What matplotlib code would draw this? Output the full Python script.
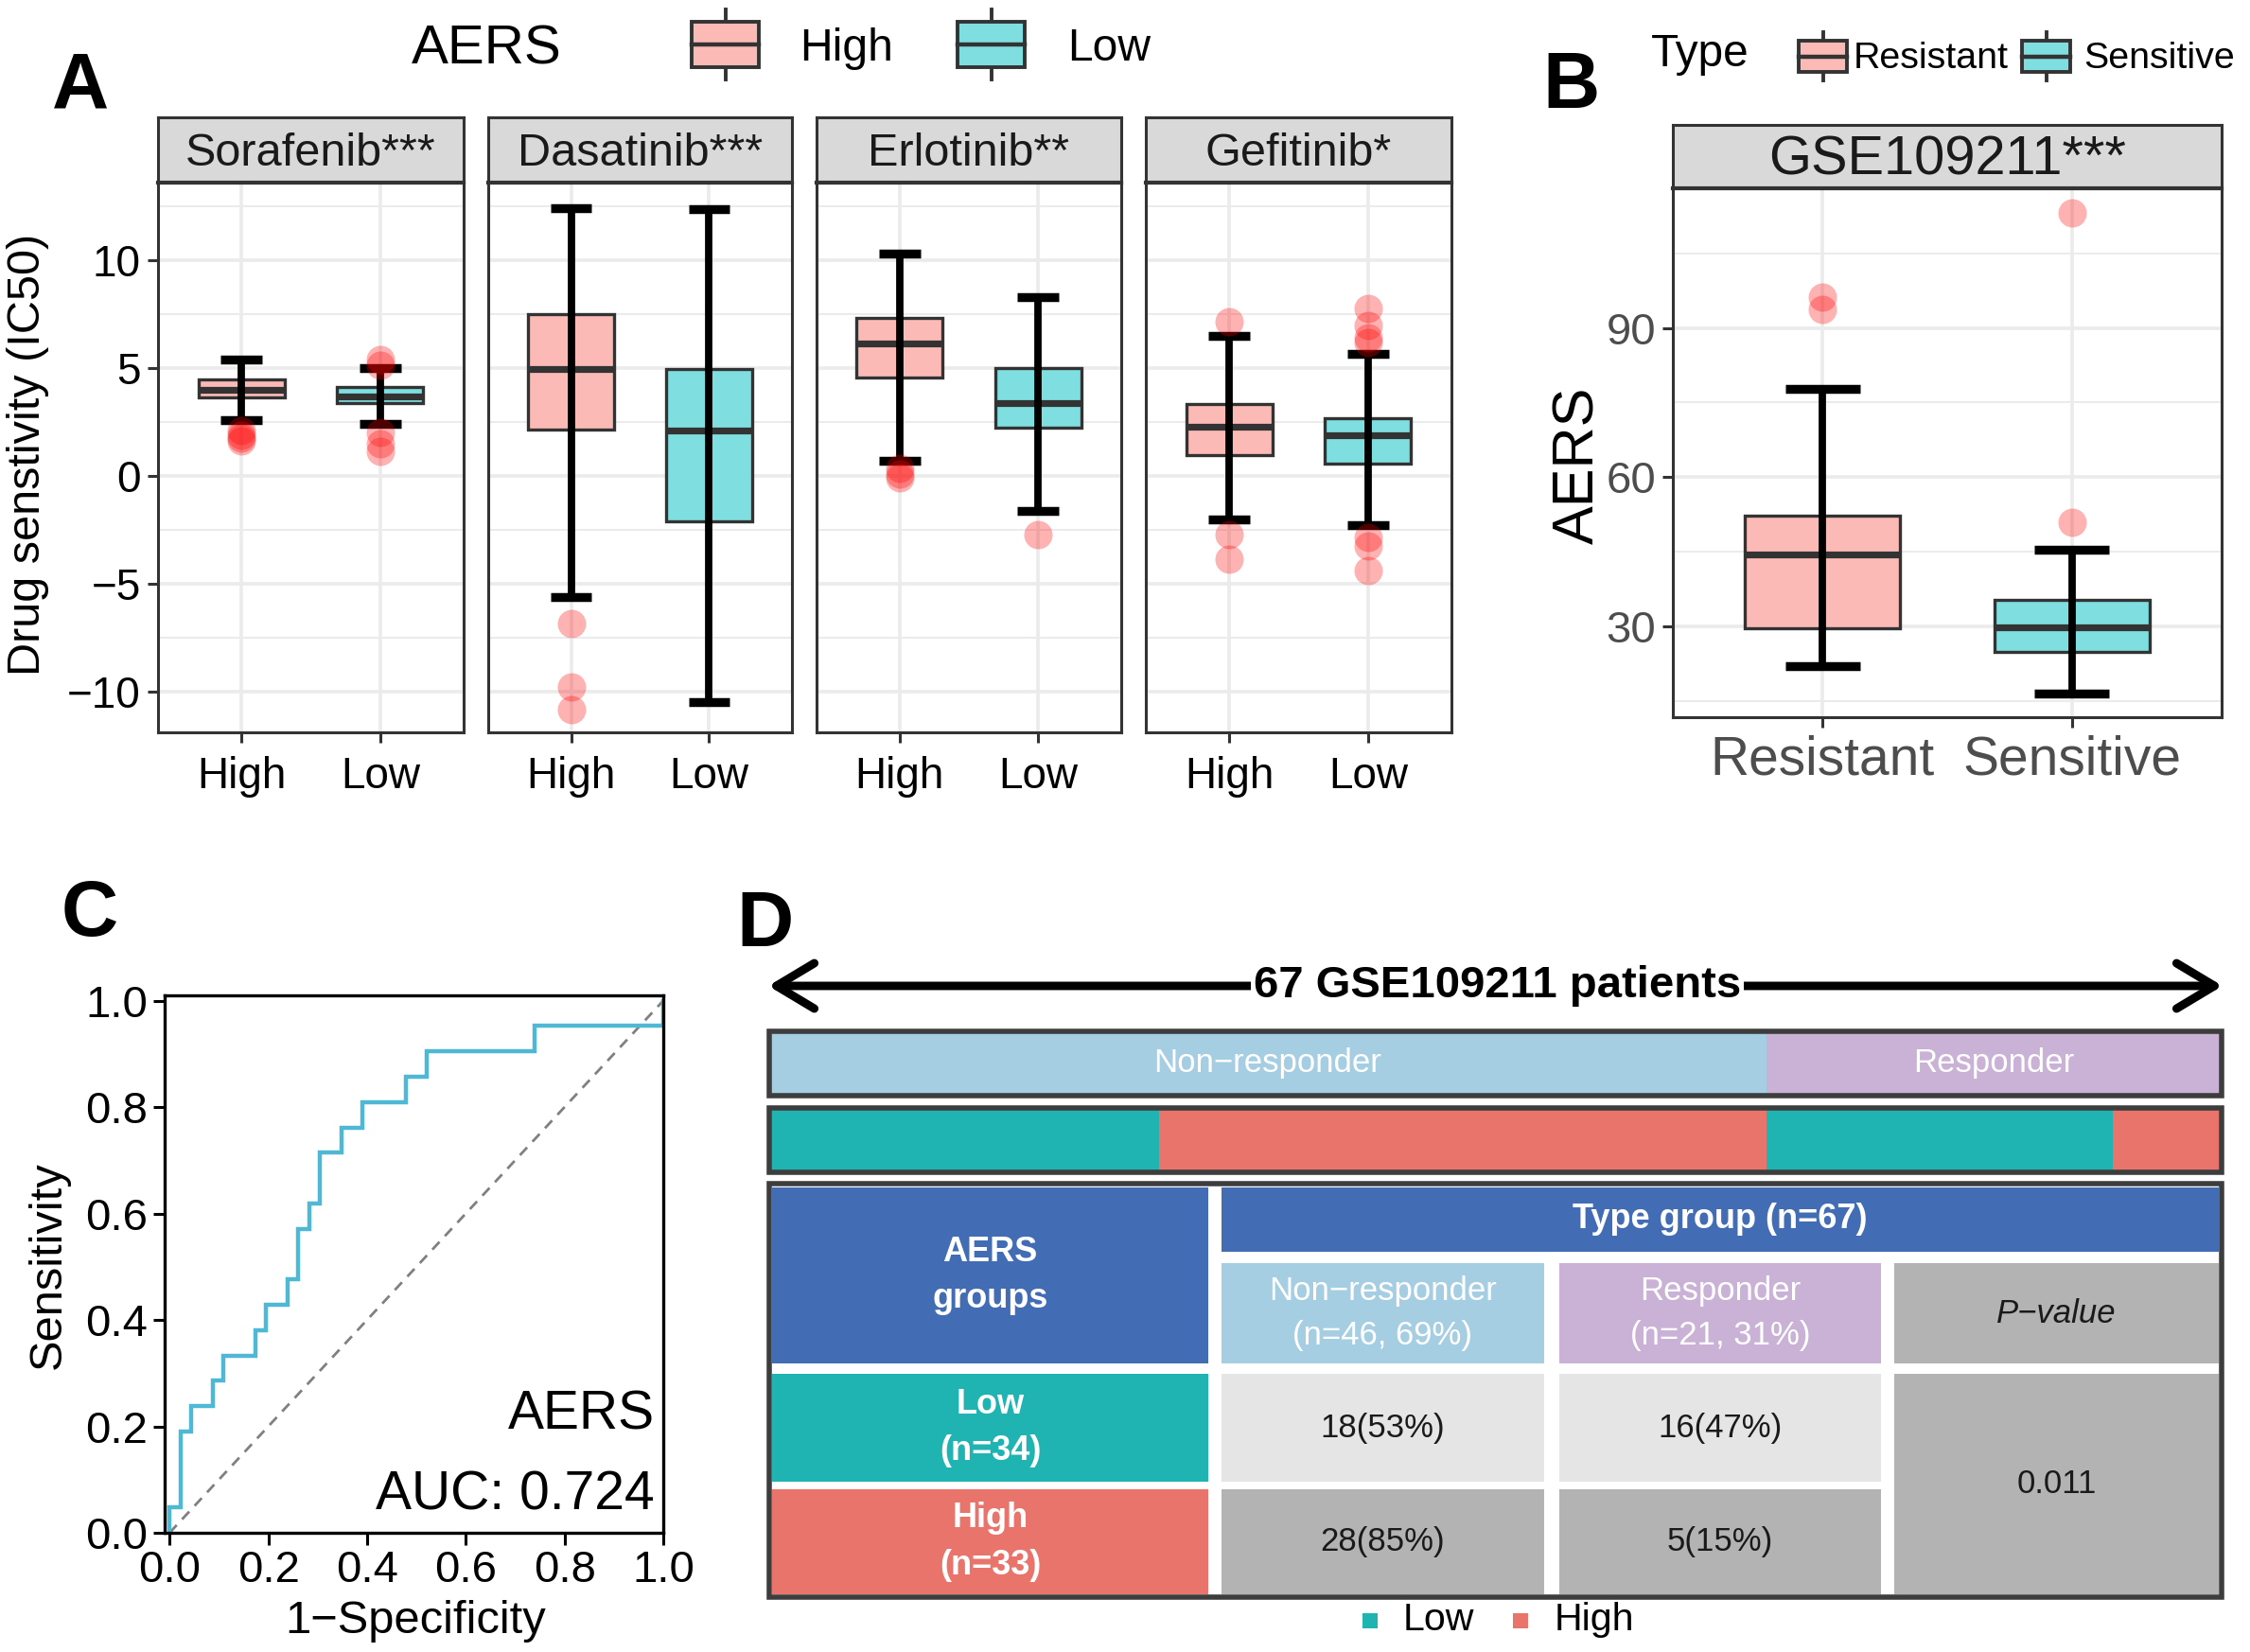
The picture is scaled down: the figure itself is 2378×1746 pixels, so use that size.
import matplotlib
matplotlib.use("Agg")
import matplotlib.pyplot as plt
from matplotlib.patches import Rectangle
from matplotlib.ticker import FixedLocator

W, H, DPI = 2378, 1746, 200
plt.rcParams['font.family'] = ['Liberation Sans', 'DejaVu Sans']
plt.rcParams['axes.unicode_minus'] = True

# ---------------- data ----------------
# Panel A: five-number summaries [lower whisker, Q1, median, Q3, upper whisker]
drugs = ["Sorafenib***", "Dasatinib***", "Erlotinib**", "Gefitinib*"]
aers_levels = ["High", "Low"]
sorafenib_high = [2.57, 3.62, 4.00, 4.48, 5.38]
sorafenib_low = [2.43, 3.38, 3.70, 4.10, 5.00]
dasatinib_high = [-5.64, 2.14, 4.95, 7.50, 12.40]
dasatinib_low = [-10.50, -2.10, 2.10, 4.95, 12.36]
erlotinib_high = [0.71, 4.55, 6.14, 7.33, 10.30]
erlotinib_low = [-1.62, 2.24, 3.38, 5.00, 8.30]
gefitinib_high = [-2.02, 0.95, 2.26, 3.33, 6.48]
gefitinib_low = [-2.31, 0.55, 1.86, 2.69, 5.67]
sorafenib_high_out = [2.1, 1.9, 1.75, 1.6]
sorafenib_low_out = [5.4, 5.15, 2.0, 1.5, 1.15]
dasatinib_high_out = [-6.86, -9.8, -10.86]
dasatinib_low_out = []
erlotinib_high_out = [0.35, 0.1, -0.1]
erlotinib_low_out = [-2.71]
gefitinib_high_out = [7.17, -2.71, -3.86]
gefitinib_low_out = [7.76, 6.98, 6.4, 6.2, -2.86, -3.26, -4.38]
a_yticks = [-10, -5, 0, 5, 10]
a_yminor = [-7.5, -2.5, 2.5, 7.5, 12.5]

# Panel B
b_title = "GSE109211***"
types = ["Resistant", "Sensitive"]
resistant_stats = [22.0, 29.5, 44.5, 52.2, 77.8]
sensitive_stats = [16.4, 24.9, 29.8, 35.3, 45.3]
resistant_out = [96.2, 93.8]
sensitive_out = [113.2, 51.0]
b_yticks = [30, 60, 90]
b_yminor = [15, 45, 75, 105]

# Panel C: ROC vertices as counts of non-responders (FP) and responders (TP)
n_nonresp, n_resp = 46, 21
roc_fp = [0, 0, 1, 1, 2, 2, 4, 4, 5, 5, 8, 8, 9, 9, 11, 11, 12, 12, 13, 13,
          14, 14, 16, 16, 18, 18, 22, 22, 24, 24, 34, 34, 46, 46]
roc_tp = [0, 1, 1, 4, 4, 5, 5, 6, 6, 7, 7, 8, 8, 9, 9, 10, 10, 12, 12, 13,
          13, 15, 15, 16, 16, 17, 17, 18, 18, 19, 19, 20, 20, 21]
roc_ticks = [0.0, 0.2, 0.4, 0.6, 0.8, 1.0]
auc_text = "AUC: 0.724"

# Panel D
response_labels = ["Non\u2212responder", "Responder"]
response_n = [46, 21]
aers_groups = ["Low", "High"]
low_counts = [18, 16]
high_counts = [28, 5]
p_value = "0.011"

# ---------------- styles ----------------
FILL = {"High": "#FBBAB6", "Low": "#7FDEE0"}
D_TEAL = "#1FB4B2"
D_RED = "#E8746B"
D_BLUE = "#426CB4"
D_LBLUE = "#A6CEE3"
D_PURP = "#CAB2D6"
D_GRAY = "#B3B3B3"
D_LGRAY = "#E5E5E5"
EDGE = "#333333"

fig = plt.figure(figsize=(W / DPI, H / DPI), dpi=DPI)


def px_axes(x0, y0, x1, y1, **kw):
    return fig.add_axes([x0 / W, 1 - y1 / H, (x1 - x0) / W, (y1 - y0) / H], **kw)


def fmt_num(v):
    return f"{v}".replace("-", "\u2212")


def draw_boxes(ax, stats, outs, fills):
    pos = [1, 2]
    bx = [dict(whislo=s[0], q1=s[1], med=s[2], q3=s[3], whishi=s[4], fliers=[])
          for s in stats]
    art = ax.bxp(bx, positions=pos, widths=0.62, patch_artist=True,
                 showcaps=False, showfliers=False,
                 boxprops=dict(edgecolor=EDGE, linewidth=1.2),
                 medianprops=dict(color=EDGE, linewidth=2.6, solid_capstyle='butt'))
    for w in art['whiskers']:
        w.set_visible(False)
    for patch, c in zip(art['boxes'], fills):
        patch.set_facecolor(c)
        patch.set_zorder(2)
    for m in art['medians']:
        m.set_zorder(3)
    for p, s in zip(pos, stats):
        ax.vlines(p, s[0], s[4], colors='black', lw=2.8, zorder=4)
        ax.hlines([s[0], s[4]], p - 0.15, p + 0.15, colors='black', lw=3.4, zorder=4)
    for p, o in zip(pos, outs):
        if len(o):
            ax.plot([p] * len(o), o, 'o', color='red', alpha=0.3, ms=10.8, mew=0, zorder=5)


def style_panel(ax, minor):
    ax.set_xlim(0.4, 2.6)
    ax.set_axisbelow(True)
    ax.yaxis.set_minor_locator(FixedLocator(minor))
    ax.xaxis.grid(True, which='major', color='#EBEBEB', lw=1.3)
    ax.yaxis.grid(True, which='major', color='#EBEBEB', lw=1.3)
    ax.yaxis.grid(True, which='minor', color='#EBEBEB', lw=0.7)
    ax.tick_params(which='minor', length=0)
    ax.tick_params(which='major', length=4, width=1.1, color=EDGE, pad=2.5)
    for sp in ax.spines.values():
        sp.set_color(EDGE)
        sp.set_linewidth(1.1)


def strip(x0, y0, x1, y1, label, fs):
    s = px_axes(x0, y0, x1, y1)
    s.set_facecolor('#D9D9D9')
    s.set_xticks([])
    s.set_yticks([])
    for sp in s.spines.values():
        sp.set_color(EDGE)
        sp.set_linewidth(1.1)
    s.spines['bottom'].set_linewidth(1.5)
    s.text(0.5, 0.44, label, ha='center', va='center', fontsize=fs,
           color='#1A1A1A', transform=s.transAxes)


# ---------------- Panel A ----------------
facet_x = [(167, 490), (516, 837), (863, 1185), (1211, 1534)]
a_stats = [[sorafenib_high, sorafenib_low], [dasatinib_high, dasatinib_low],
           [erlotinib_high, erlotinib_low], [gefitinib_high, gefitinib_low]]
a_outs = [[sorafenib_high_out, sorafenib_low_out], [dasatinib_high_out, dasatinib_low_out],
          [erlotinib_high_out, erlotinib_low_out], [gefitinib_high_out, gefitinib_low_out]]
for i, (x0, x1) in enumerate(facet_x):
    ax = px_axes(x0, 193, x1, 774)
    draw_boxes(ax, a_stats[i], a_outs[i], [FILL[g] for g in aers_levels])
    style_panel(ax, a_yminor)
    ax.set_ylim(-11.9, 13.6)
    ax.set_yticks(a_yticks)
    ax.set_xticks([1, 2])
    ax.set_xticklabels(aers_levels, fontsize=16.5, color='black')
    ax.tick_params(axis='x', pad=5)
    if i == 0:
        ax.set_yticklabels([fmt_num(v) for v in a_yticks], fontsize=16.5, color='black')
    else:
        ax.tick_params(axis='y', which='both', length=0, labelleft=False)
    strip(x0, 124, x1, 193, drugs[i], 17.5)

# ---------------- Panel B ----------------
axb = px_axes(1768, 199, 2348, 758)
draw_boxes(axb, [resistant_stats, sensitive_stats], [resistant_out, sensitive_out],
           [FILL["High"], FILL["Low"]])
style_panel(axb, b_yminor)
axb.set_ylim(11.7, 118.1)
axb.set_yticks(b_yticks)
axb.set_yticklabels([str(v) for v in b_yticks], fontsize=17, color='#4D4D4D')
axb.set_xticks([1, 2])
axb.set_xticklabels(types, fontsize=20.5, color='#4D4D4D')
strip(1768, 132, 2348, 199, b_title, 20.8)

# ---------------- Panel C ----------------
axc = px_axes(174, 1052, 701, 1620)
fpr = [v / n_nonresp for v in roc_fp]
tpr = [v / n_resp for v in roc_tp]
axc.plot([0, 1], [0, 1], ls=(0, (4, 3)), color='#808080', lw=1.0)
axc.plot(fpr, tpr, color='#4FB8D5', lw=1.6, solid_joinstyle='miter')
axc.set_xlim(-0.01, 1.0)
axc.set_ylim(0, 1.01)
axc.set_xticks(roc_ticks)
axc.set_yticks(roc_ticks)
axc.set_xticklabels([f"{v:.1f}" for v in roc_ticks], fontsize=17)
axc.set_yticklabels([f"{v:.1f}" for v in roc_ticks], fontsize=17)
axc.tick_params(length=4.5, width=1.1, color='black', pad=2)
for sp in axc.spines.values():
    sp.set_linewidth(1.2)
axc.text(0.983, 0.22, "AERS", ha='right', va='center', fontsize=20.5, transform=axc.transAxes)
axc.text(0.983, 0.07, auc_text, ha='right', va='center', fontsize=20.5, transform=axc.transAxes)

# ---------------- overlay (legends, labels, panel D) ----------------
ov = fig.add_axes([0, 0, 1, 1])
ov.set_xlim(0, W)
ov.set_ylim(H, 0)
ov.axis('off')
ov.patch.set_alpha(0)

# panel letters
for lab, x, y in [("A", 55, 114), ("B", 1630, 114), ("C", 65, 989), ("D", 778, 1000)]:
    ov.text(x, y, lab, fontsize=30, fontweight='bold', ha='left', va='baseline')

# axis labels
ov.text(30, 480, "Drug senstivity (IC50)", rotation=90, ha='center', va='center', fontsize=17.5)
ov.text(1669, 492, "AERS", rotation=90, ha='center', va='center', fontsize=22)
ov.text(51, 1337, "Sensitivity", rotation=90, ha='center', va='center', fontsize=17.6)
ov.text(439, 1713, "1\u2212Specificity", ha='center', va='center', fontsize=17.6)


def legend_key(x0, x1, y0, y1, yl0, yl1, fillc):
    xc = (x0 + x1) / 2
    ov.plot([xc, xc], [yl0, yl1], color=EDGE, lw=1.4, zorder=1)
    ov.add_patch(Rectangle((x0, y0), x1 - x0, y1 - y0, facecolor=fillc,
                           edgecolor=EDGE, lw=1.4, zorder=2))
    ov.plot([x0, x1], [(y0 + y1) / 2] * 2, color=EDGE, lw=1.6, zorder=3)


# legend A
ov.text(435, 52, "AERS", fontsize=21, ha='left', va='center')
legend_key(731, 802, 23, 71, 10, 84, FILL["High"])
legend_key(1012, 1083, 23, 71, 10, 84, FILL["Low"])
ov.text(845, 51, aers_levels[0], fontsize=17.3, ha='left', va='center')
ov.text(1128, 51, aers_levels[1], fontsize=17.3, ha='left', va='center')

# legend B
ov.text(1745, 57, "Type", fontsize=17.2, ha='left', va='center')
legend_key(1901, 1952, 43, 76, 34, 85, FILL["High"])
legend_key(2137, 2188, 43, 76, 34, 85, FILL["Low"])
ov.text(1959, 62, types[0], fontsize=14.2, ha='left', va='center')
ov.text(2202, 62, types[1], fontsize=14.2, ha='left', va='center')

# ---- Panel D ----
total = sum(response_n)
bx0, bx1 = 813, 2348
unit = (bx1 - bx0) / total
ov.annotate('', xy=(2349, 1042), xytext=(812, 1042),
            arrowprops=dict(arrowstyle='<->,head_length=0.4,head_width=0.24',
                            lw=3.2, color='black', mutation_scale=36,
                            shrinkA=0, shrinkB=0, capstyle='round', joinstyle='round'))
ov.text((bx0 + bx1) / 2 + 2, 1042, f"{total} GSE109211 patients", fontsize=17,
        fontweight='bold', ha='center', va='center',
        bbox=dict(boxstyle='square,pad=0.06', facecolor='white', edgecolor='none'))

# bar 1: response groups
left = bx0
for lab, n, col in zip(response_labels, response_n, [D_LBLUE, D_PURP]):
    ov.add_patch(Rectangle((left, 1090), n * unit, 68, facecolor=col, edgecolor='none'))
    ov.text(left + n * unit / 2, 1124, lab, color='white', fontsize=12.5, ha='center', va='center')
    left += n * unit
ov.add_patch(Rectangle((bx0, 1090), bx1 - bx0, 68, fill=False, edgecolor='#3D3D3D', lw=2.0))

# bar 2: AERS group within response group
left = bx0
for lo, hi in zip(low_counts, high_counts):
    for n, col in [(lo, D_TEAL), (hi, D_RED)]:
        ov.add_patch(Rectangle((left, 1171), n * unit, 68, facecolor=col, edgecolor='none'))
        left += n * unit
ov.add_patch(Rectangle((bx0, 1171), bx1 - bx0, 68, fill=False, edgecolor='#3D3D3D', lw=2.0))


def cell(x0, x1, y0, y1, fillc, text=None, **kw):
    ov.add_patch(Rectangle((x0, y0), x1 - x0, y1 - y0, facecolor=fillc, edgecolor='none'))
    if text is not None:
        ov.text((x0 + x1) / 2, (y0 + y1) / 2, text, ha='center', va='center',
                linespacing=1.55, **kw)


c0, c1, c2, c3 = (816, 1277), (1291, 1632), (1648, 1988), (2002, 2345)
r_top, r_sub, r_low, r_high = (1255, 1323), (1335, 1441), (1452, 1566), (1574, 1685)

cell(*c0, r_top[0], r_sub[1], D_BLUE, "AERS\ngroups", color='white', fontsize=13, fontweight='bold')
cell(c1[0], c3[1], *r_top, D_BLUE, f"Type group (n={total})", color='white', fontsize=13, fontweight='bold')
for (cx, lab, n, col) in [(c1, response_labels[0], response_n[0], D_LBLUE),
                          (c2, response_labels[1], response_n[1], D_PURP)]:
    cell(*cx, *r_sub, col, f"{lab}\n(n={n}, {round(100 * n / total)}%)", color='white', fontsize=12.5)
cell(*c3, *r_sub, D_GRAY, "P\u2212value", color='#1A1A1A', fontsize=12.5, style='italic')

row_specs = [(r_low, aers_groups[0], low_counts, D_TEAL, D_LGRAY),
             (r_high, aers_groups[1], high_counts, D_RED, D_GRAY)]
for rr, g, cnts, hcol, ccol in row_specs:
    ntot = sum(cnts)
    cell(*c0, *rr, hcol, f"{g}\n(n={ntot})", color='white', fontsize=13, fontweight='bold')
    for cx, v in zip([c1, c2], cnts):
        cell(*cx, *rr, ccol, f"{v}({round(100 * v / ntot)}%)", color='#1A1A1A', fontsize=12.5)
cell(*c3, r_low[0], r_high[1], D_GRAY, p_value, color='#1A1A1A', fontsize=12.5)
ov.add_patch(Rectangle((bx0, 1251), bx1 - bx0, 437, fill=False, edgecolor='#3D3D3D', lw=2.0))

# legend D
ov.add_patch(Rectangle((1440, 1705), 16, 16, facecolor=D_TEAL, edgecolor='none'))
ov.text(1483, 1712, aers_groups[0], fontsize=14.8, ha='left', va='center')
ov.add_patch(Rectangle((1599, 1705), 16, 16, facecolor=D_RED, edgecolor='none'))
ov.text(1643, 1712, aers_groups[1], fontsize=14.8, ha='left', va='center')

fig.savefig("out.png", dpi=DPI)
